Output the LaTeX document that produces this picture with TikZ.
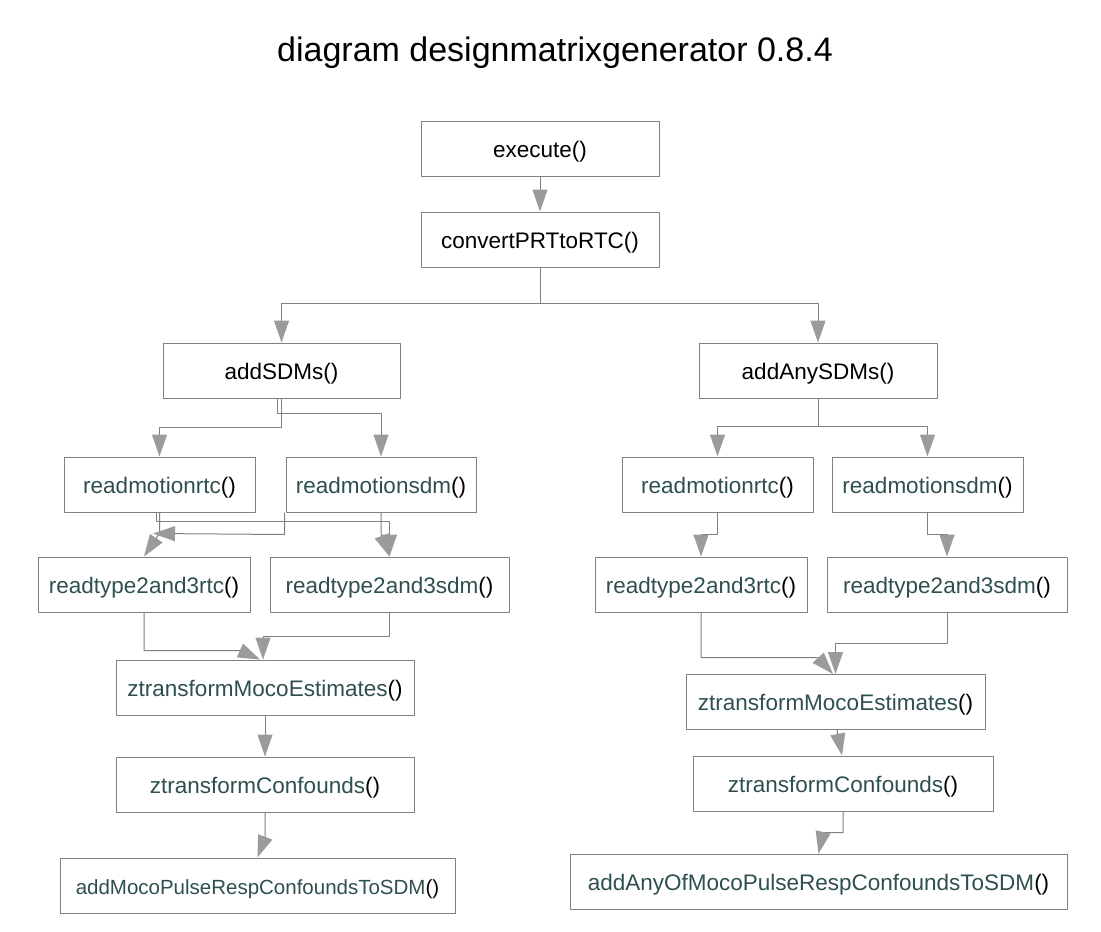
\documentclass[tikz,border=0pt]{standalone}
\usepackage{fontspec}
\setmainfont{Liberation Sans}
\usepackage{xcolor}
\usepackage{tikz}
\usetikzlibrary{arrows.meta}

\begin{document}
\begin{tikzpicture}[
      % un punto per pixel, asse y verso il basso
      x=1pt,
      y=-1pt,
      line join=round
  ]

  % Palette
  \definecolor{fnteal}{RGB}{47, 79, 79}
  \definecolor{boxgray}{RGB}{128, 128, 128}
  \definecolor{tipgray}{RGB}{155, 155, 155}

  \def\call#1{\textcolor{fnteal}{#1}()}

  \tikzset{
      fn/.style={draw=boxgray, line width=1pt, minimum height=55pt, inner sep=0pt,
                 text height=19pt, text depth=2pt,
                 font=\fontsize{22.5}{27}\selectfont},
      link/.style={draw=boxgray, line width=1pt,
                   -{Triangle[width=15pt, length=22pt, color=tipgray]}}
  }

  \useasboundingbox (0,0) rectangle (1101,932);

  % 1. Titolo
  \node[font=\fontsize{34}{40}\selectfont] (title) at (555,53) {diagram designmatrixgenerator 0.8.4};

  % 2. Nodi comuni
  \node[fn, minimum width=238pt] (exec)   at (540,148.5) {execute()};
  \node[fn, minimum width=238pt] (conv)   at (540,239.5) {convertPRTtoRTC()};
  \node[fn, minimum width=237pt] (addsdm) at (281.5,370.5) {addSDMs()};
  \node[fn, minimum width=238pt] (addany) at (818,370.5) {addAnySDMs()};

  % 3. Ramo sinistro
  \node[fn, minimum width=191pt] (lrtc)      at (159.5,484.5) {\call{readmotionrtc}};
  \node[fn, minimum width=190pt] (lsdm)      at (381,484.5)   {\call{readmotionsdm}};
  \node[fn, minimum width=212pt] (ltype2rtc) at (144,584.5)   {\call{readtype2and3rtc}};
  \node[fn, minimum width=239pt] (ltype2sdm) at (389.5,584.5) {\call{readtype2and3sdm}};
  \node[fn, minimum width=298pt] (lzmoco)    at (265,687.5)   {\call{ztransformMocoEstimates}};
  \node[fn, minimum width=298pt] (lzconf)    at (265,784.5)   {\call{ztransformConfounds}};
  \node[fn, minimum width=395pt, font=\fontsize{20.5}{25}\selectfont]
       (laddmoco) at (257.5,885.5) {\call{addMocoPulseRespConfoundsToSDM}};

  % 4. Ramo destro
  \node[fn, minimum width=191pt] (rrtc)      at (717.5,484.5) {\call{readmotionrtc}};
  \node[fn, minimum width=191pt] (rsdm)      at (927.5,484.5) {\call{readmotionsdm}};
  \node[fn, minimum width=212pt] (rtype2rtc) at (701,584.5)   {\call{readtype2and3rtc}};
  \node[fn, minimum width=240pt] (rtype2sdm) at (947,584.5)   {\call{readtype2and3sdm}};
  \node[fn, minimum width=299pt] (rzmoco)    at (835.5,702)   {\call{ztransformMocoEstimates}};
  \node[fn, minimum width=300pt] (rzconf)    at (843,783.5)   {\call{ztransformConfounds}};
  \node[fn, minimum width=497pt] (raddany)   at (818.5,881.5) {\call{addAnyOfMocoPulseRespConfoundsToSDM}};

  % 5. Collegamenti comuni
  \draw[link] (exec.south) -- (conv.north);
  \draw[link] (conv.south) -- ++(0,36) -| (addsdm.north);
  \draw[link] (conv.south) -- ++(0,36) -| (addany.north);

  % 6. Collegamenti a sinistra
  \draw[link] (addsdm.south) -- ++(0,29) -| (lrtc.north);
  \draw[link] ([xshift=-4pt]addsdm.south) -- ++(0,15) -| (lsdm.north);
  \draw[link] (lrtc.south) -- ++(0,21) -- (ltype2rtc.north);
  \draw[link] ([xshift=-3pt]lrtc.south) -- ++(0,9) -| (ltype2sdm.north);
  \draw[link] ([xshift=-1pt]lsdm.south west) -- ++(0,22) -- ([shift={(9,-23)}]ltype2rtc.north);
  \draw[link] (lsdm.south) -- ++(0,21) -- (ltype2sdm.north);
  \draw[link] (ltype2rtc.south) -- ++(0,38) -- ++(96,0) -- ([xshift=-5pt]lzmoco.north);
  \draw[link] (ltype2sdm.south) -- ++(0,24) -| ([xshift=-2pt]lzmoco.north);
  \draw[link] (lzmoco.south) -- (lzconf.north);
  \draw[link] (lzconf.south) -- ++(0,25) -- (laddmoco.north);

  % 7. Collegamenti a destra
  \draw[link] (addany.south) -- ++(0,28) -| (rrtc.north);
  \draw[link] (addany.south) -- ++(0,28) -| (rsdm.north);
  \draw[link] (rrtc.south) -- ++(0,22) -| (rtype2rtc.north);
  \draw[link] (rsdm.south) -- ++(0,22) -| (rtype2sdm.north);
  \draw[link] (rtype2rtc.south) -- ++(0,45) -- ++(117,0) -- ([xshift=-2.5pt]rzmoco.north);
  \draw[link] (rtype2sdm.south) -- ++(0,31) -| (rzmoco.north);
  \draw[link] ([xshift=1.5pt]rzmoco.south) -- ([xshift=-1pt]rzconf.north);
  \draw[link] (rzconf.south) -- ++(0,21) -- ++(-20,0) -- (raddany.north);

\end{tikzpicture}
\end{document}
